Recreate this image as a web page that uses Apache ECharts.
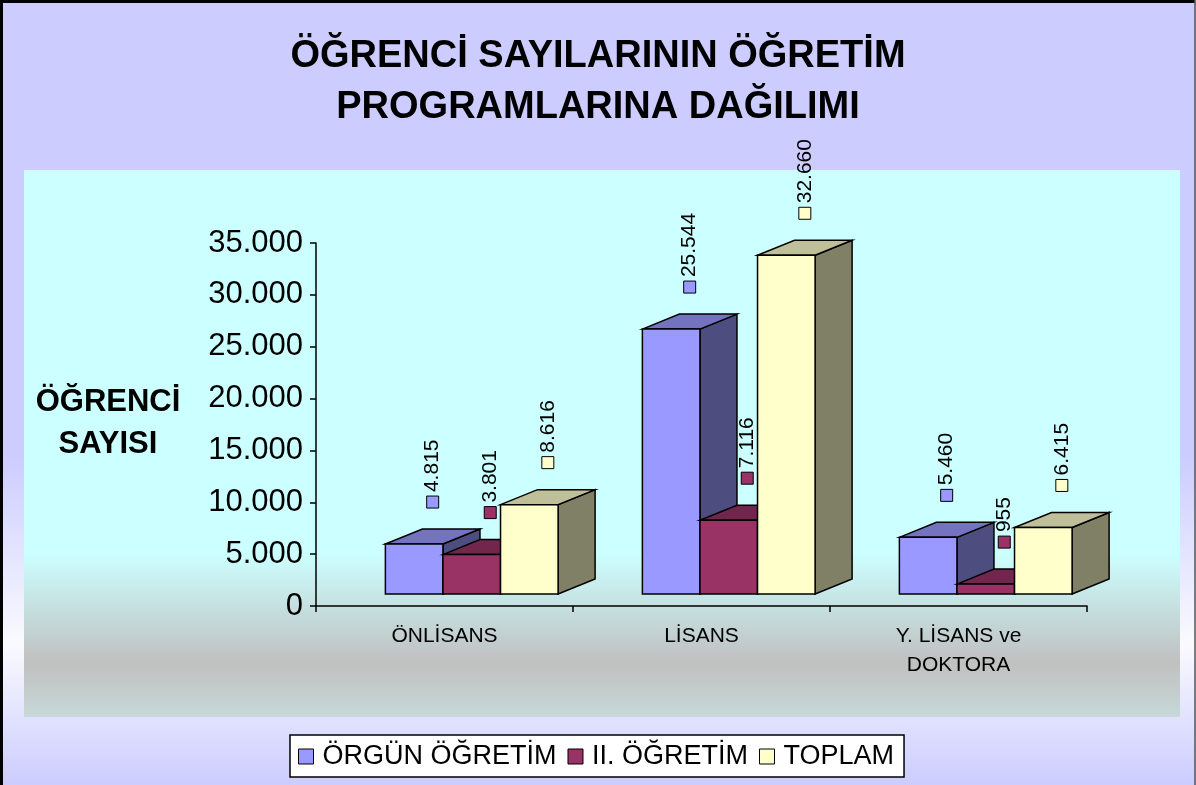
<!DOCTYPE html>
<html>
<head>
<meta charset="utf-8">
<script src="https://cdn.jsdelivr.net/npm/echarts@6/dist/echarts.min.js"></script>
<style>
  html, body { margin: 0; padding: 0; }
  #main { width: 1196px; height: 785px; }
</style>
</head>
<body>
<div id="main"></div>
<script>
// veriler
var categories = ['ÖNLİSANS', 'LİSANS', 'Y. LİSANS ve\nDOKTORA'];
var seriesNames = ['ÖRGÜN ÖĞRETİM', 'II. ÖĞRETİM', 'TOPLAM'];
var orgun = [4815, 25544, 5460];
var ikinci = [3801, 7116, 955];
var toplam = [8616, 32660, 6415];
var yTicks = [0, 5000, 10000, 15000, 20000, 25000, 30000, 35000];

var colors = ['#9999FF', '#993366', '#FFFFCC'];
var FONT = '"Liberation Sans", Arial, sans-serif';

// binlik ayraç nokta
function fmt(v) {
  return String(v).replace(/\B(?=(\d{3})+(?!\d))/g, '.');
}

function shade(hex, k) {
  var n = parseInt(hex.slice(1), 16);
  var r = Math.round(((n >> 16) & 255) * k);
  var g = Math.round(((n >> 8) & 255) * k);
  var b = Math.round((n & 255) * k);
  return 'rgb(' + r + ',' + g + ',' + b + ')';
}

// 3B sütun çizimi
function makeRender(si) {
  return function (params, api) {
    var i = api.value(0), v = api.value(1);
    var band = api.size([1, 0])[0];
    var base = api.coord([i, 0]);
    var top = api.coord([i, v]);
    var w = band * 0.224, dx = band * 0.144, dy = 15, lift = 12;
    var x0 = base[0] - band * 0.23 + si * w;
    var y0 = base[1] - lift, y1 = top[1] - lift;
    var c = colors[si];
    var ln = { stroke: '#000', lineWidth: 1.5 };
    var sq = 12;
    var lx = x0 + (w + dx) / 2;
    var ly = y1 - 42;
    return {
      type: 'group',
      children: [
        {
          type: 'polygon',
          shape: { points: [[x0 + w, y0], [x0 + w + dx, y0 - dy], [x0 + w + dx, y1 - dy], [x0 + w, y1]] },
          style: Object.assign({ fill: shade(c, 0.5) }, ln)
        },
        {
          type: 'polygon',
          shape: { points: [[x0, y1], [x0 + dx, y1 - dy], [x0 + w + dx, y1 - dy], [x0 + w, y1]] },
          style: Object.assign({ fill: shade(c, 0.75) }, ln)
        },
        {
          type: 'rect',
          shape: { x: x0, y: y1, width: w, height: y0 - y1 },
          style: Object.assign({ fill: c }, ln)
        },
        {
          type: 'rect',
          z2: 100,
          shape: { x: lx - sq / 2, y: ly - sq / 2, width: sq, height: sq },
          style: { fill: c, stroke: '#000', lineWidth: 1 }
        },
        {
          type: 'text',
          z2: 100,
          x: lx,
          y: ly - sq / 2 - 4,
          rotation: Math.PI / 2,
          style: {
            text: fmt(v),
            fill: '#000',
            font: '21px ' + FONT,
            textAlign: 'left',
            textVerticalAlign: 'middle'
          }
        }
      ]
    };
  };
}

var allValues = [orgun, ikinci, toplam];
var series = [];
for (var s = 0; s < 3; s++) {
  series.push({
    name: seriesNames[s],
    type: 'custom',
    renderItem: makeRender(s),
    itemStyle: { color: colors[s], borderColor: '#000', borderWidth: 1 },
    encode: { x: 0, y: 1 },
    data: allValues[s].map(function (v, i) { return [i, v]; })
  });
}

var chart = echarts.init(document.getElementById('main'));
var option = {
  animation: false,
  title: {
    text: 'ÖĞRENCİ SAYILARININ ÖĞRETİM\nPROGRAMLARINA DAĞILIMI',
    left: 'center',
    top: 26,
    textStyle: { fontFamily: FONT, fontSize: 38, fontWeight: 'bold', color: '#000', lineHeight: 51 }
  },
  graphic: [
    {
      type: 'rect', z: -20, silent: true,
      shape: { x: 0, y: 0, width: 1196, height: 785 },
      style: {
        fill: new echarts.graphic.LinearGradient(0, 0, 0, 1, [
          { offset: 0, color: '#CCCCFF' },
          { offset: 0.58, color: '#CCCCFF' },
          { offset: 0.82, color: '#FAFAFF' },
          { offset: 1, color: '#CCCCFF' }
        ])
      }
    },
    {
      type: 'rect', z: -10, silent: true,
      shape: { x: 24, y: 170, width: 1156, height: 547 },
      style: {
        fill: new echarts.graphic.LinearGradient(0, 0, 0, 1, [
          { offset: 0, color: '#CCFFFF' },
          { offset: 0.7, color: '#CCFFFF' },
          { offset: 0.9, color: '#C0C0C0' },
          { offset: 1, color: '#C8D8D8' }
        ])
      }
    },
    {
      type: 'polyline', z: 50, silent: true,
      shape: { points: [[1.5, 785], [1.5, 1.5], [1195, 1.5]] },
      style: { stroke: '#000', lineWidth: 3, fill: null }
    },
    {
      type: 'line', z: 50, silent: true,
      shape: { x1: 1195, y1: 0, x2: 1195, y2: 785 },
      style: { stroke: '#555', lineWidth: 1.5 }
    },
    {
      type: 'text', z: 10,
      x: 108, y: 381,
      style: {
        text: 'ÖĞRENCİ\nSAYISI',
        fill: '#000',
        font: 'bold 31px ' + FONT,
        textAlign: 'center',
        lineHeight: 42
      }
    }
  ],
  legend: {
    data: seriesNames,
    left: 290,
    top: 735,
    icon: 'rect',
    itemWidth: 15,
    itemHeight: 15,
    itemGap: 11,
    padding: [8, 10, 7, 8],
    backgroundColor: '#FFFFFF',
    borderColor: '#000',
    borderWidth: 1.5,
    borderRadius: 0,
    itemStyle: { borderColor: '#000', borderWidth: 1 },
    textStyle: { fontFamily: FONT, fontSize: 27, color: '#000', padding: [0, 0, 0, 4] }
  },
  grid: { left: 316, right: 109, top: 243, bottom: 179, containLabel: false },
  xAxis: {
    type: 'category',
    data: categories,
    axisLine: { lineStyle: { color: '#000', width: 1.5 } },
    axisTick: { show: true, length: 6, lineStyle: { color: '#000', width: 1.5 } },
    axisLabel: { margin: 16, fontFamily: FONT, fontSize: 21, color: '#000', lineHeight: 29 },
    splitLine: { show: false }
  },
  yAxis: {
    type: 'value',
    min: yTicks[0],
    max: yTicks[yTicks.length - 1],
    interval: yTicks[1] - yTicks[0],
    axisLine: { show: true, lineStyle: { color: '#000', width: 1.5 } },
    axisTick: { show: true, length: 6, lineStyle: { color: '#000', width: 1.5 } },
    axisLabel: { margin: 13, fontFamily: FONT, fontSize: 31, color: '#000', formatter: fmt },
    splitLine: { show: false }
  },
  series: series
};
chart.setOption(option);
window.onresize = chart.resize;
</script>
</body>
</html>
